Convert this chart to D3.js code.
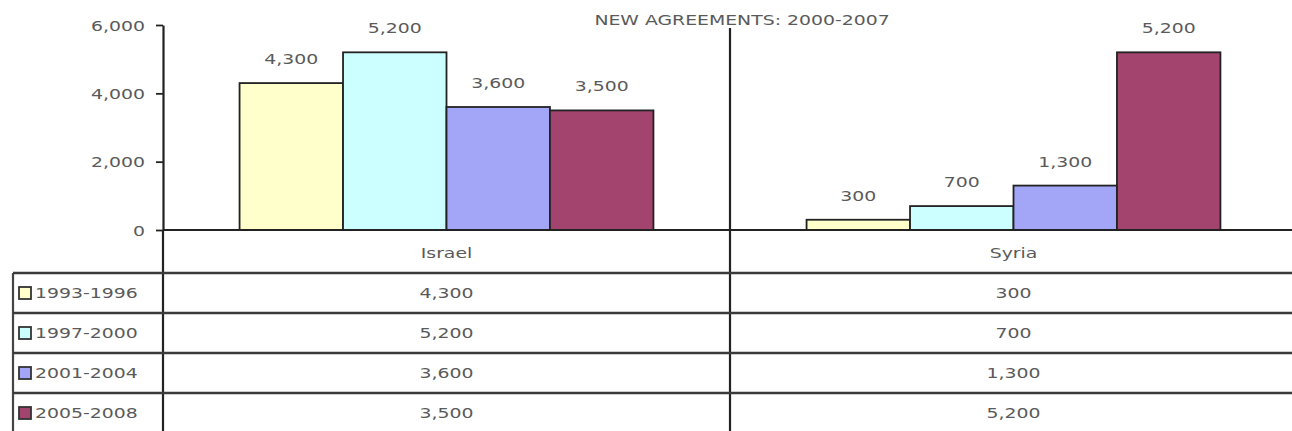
<!DOCTYPE html>
<html>
<head>
<meta charset="utf-8">
<script src="https://cdn.jsdelivr.net/npm/d3@7"></script>
<style>
  body { margin: 0; background: #fff; }
  svg { display: block; }
</style>
</head>
<body>
<div id="chart"></div>
<script>
// data
const categories = ["Israel", "Syria"];
const series = ["1993-1996", "1997-2000", "2001-2004", "2005-2008"];
const israelValues = [4300, 5200, 3600, 3500];
const syriaValues = [300, 700, 1300, 5200];
const yTicks = [0, 2000, 4000, 6000];
const seriesColors = ["#FFFFCC", "#CCFFFF", "#A3A5F7", "#A3446F"];
const title = "NEW AGREEMENTS: 2000-2007";

const values = {Israel: israelValues, Syria: syriaValues};

const width = 1292, height = 431;
const svg = d3.select("#chart").append("svg")
    .attr("width", width)
    .attr("height", height);

const fontFam = "'DejaVu Sans', Verdana, sans-serif";
const textCol = "#5a5a5a";
const lineCol = "#222";
const stretch = 1.3; // the source text is horizontally stretched

// scales
const plotLeft = 163, plotRight = 1297, plotTop = 25, plotBottom = 230;
const x0 = d3.scaleBand().domain(categories).range([plotLeft, plotRight]);
const x1 = d3.scaleBand().domain(series).range([0, x0.bandwidth()]).paddingOuter(0.74);
const y = d3.scaleLinear().domain([0, 6000]).range([plotBottom, plotTop]);
const rowY = d3.scaleBand().domain(series).range([273, 433]);
const fmt = d3.format(",");

function label(g, txt, x, yy, anchor) {
  return g.append("text")
      .attr("transform", `translate(${x},${yy}) scale(${stretch},1)`)
      .attr("text-anchor", anchor || "middle")
      .attr("dy", "0.35em")
      .attr("font-family", fontFam)
      .attr("font-size", 14.5)
      .attr("fill", textCol)
      .text(txt);
}

// title
label(svg, title, 742, 20);

// bars
const groups = svg.append("g").selectAll("g")
  .data(categories)
  .join("g")
    .attr("transform", d => `translate(${x0(d)},0)`);

groups.selectAll("rect")
  .data(c => series.map((s, i) => ({s, i, v: values[c][i]})))
  .join("rect")
    .attr("x", d => x1(d.s))
    .attr("y", d => y(d.v))
    .attr("width", x1.bandwidth())
    .attr("height", d => y(0) - y(d.v))
    .attr("fill", d => seriesColors[d.i])
    .attr("stroke", lineCol)
    .attr("stroke-width", 1.8);

groups.each(function(c) {
  const g = d3.select(this);
  series.forEach((s, i) => {
    label(g, fmt(values[c][i]), x1(s) + x1.bandwidth() / 2, y(values[c][i]) - 24);
  });
});

// y axis
const yAxis = svg.append("g")
    .attr("transform", `translate(${plotLeft},0)`)
    .call(d3.axisLeft(y).tickValues(yTicks).tickFormat(fmt).tickSize(7).tickSizeOuter(0));
yAxis.select(".domain").attr("stroke", lineCol).attr("stroke-width", 2.2);
yAxis.selectAll(".tick line").attr("stroke", lineCol).attr("stroke-width", 1.8);
yAxis.selectAll(".tick text").remove();
yAxis.selectAll(".tick").each(function(d) {
  label(d3.select(this), fmt(d), -18, 0, "end");
});

// x axis baseline
svg.append("line")
    .attr("x1", plotLeft).attr("x2", width)
    .attr("y1", y(0)).attr("y2", y(0))
    .attr("stroke", lineCol).attr("stroke-width", 2.2);

// vertical lines: axis extension and category divider
svg.append("line")
    .attr("x1", plotLeft).attr("x2", plotLeft)
    .attr("y1", y(0)).attr("y2", height)
    .attr("stroke", lineCol).attr("stroke-width", 2.2);
svg.append("line")
    .attr("x1", x0("Syria")).attr("x2", x0("Syria"))
    .attr("y1", 28).attr("y2", height)
    .attr("stroke", lineCol).attr("stroke-width", 2.2);

// data table
const table = svg.append("g");
categories.forEach(c => {
  label(table, c, x0(c) + x0.bandwidth() / 2, 253);
});

table.append("line")
    .attr("x1", 13).attr("x2", 13)
    .attr("y1", rowY(series[0])).attr("y2", height)
    .attr("stroke", "#444").attr("stroke-width", 2.2);

series.forEach((s, i) => {
  const top = rowY(s);
  table.append("line")
      .attr("x1", 13).attr("x2", width)
      .attr("y1", top).attr("y2", top)
      .attr("stroke", "#3a3a3a").attr("stroke-width", 2.6);
  const mid = top + rowY.bandwidth() / 2;
  table.append("rect")
      .attr("x", 19).attr("y", mid - 6)
      .attr("width", 12).attr("height", 12)
      .attr("fill", seriesColors[i])
      .attr("stroke", "#333").attr("stroke-width", 1.8);
  label(table, s, 35, mid, "start");
  categories.forEach(c => {
    label(table, fmt(values[c][i]), x0(c) + x0.bandwidth() / 2, mid);
  });
});
</script>
</body>
</html>
